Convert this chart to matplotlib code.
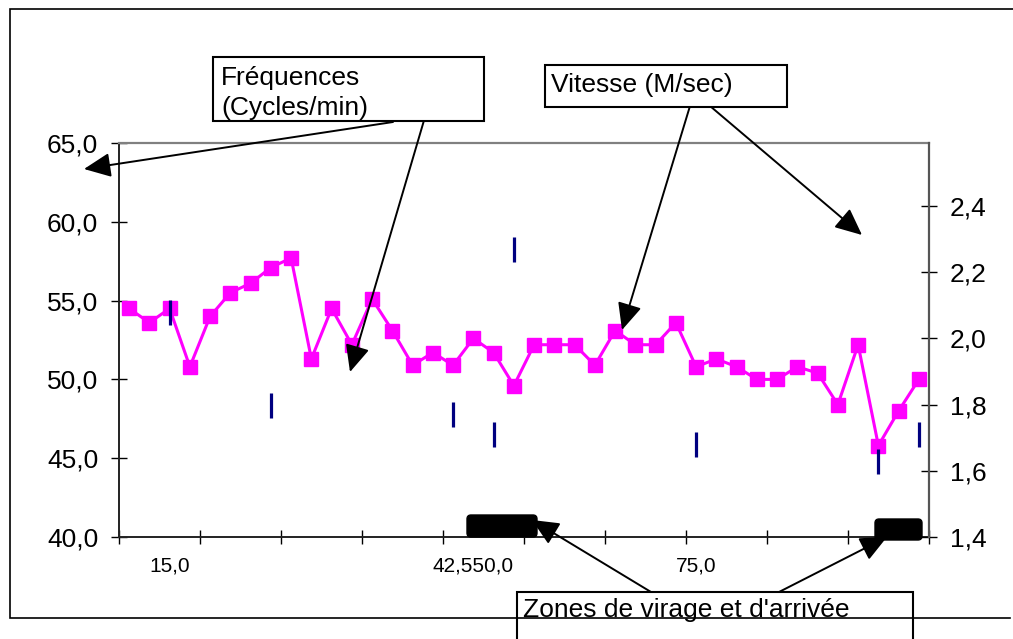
import matplotlib
matplotlib.use('Agg')
import matplotlib.pyplot as plt
import numpy as np
from matplotlib.patches import FancyBboxPatch, Rectangle, FancyArrowPatch

plt.rcParams['font.family'] = ['Liberation Sans', 'DejaVu Sans']

nan = np.nan
# ---- data ----
categories = list(range(40))
x_label_positions = [2, 17, 28]
x_labels = ['15,0', '42,550,0', '75,0']

frequences = [54.5, 53.6, 54.5, 50.8, 54.0, 55.5, 56.1, 57.1, 57.7, 51.3,
              54.5, 52.2, 55.1, 53.1, 50.9, 51.7, 50.9, 52.6, 51.7, 49.6,
              52.2, 52.2, 52.2, 50.9, 53.1, 52.2, 52.2, 53.6, 50.8, 51.3,
              50.8, 50.0, 50.0, 50.8, 50.4, 48.4, 52.2, 45.8, 48.0, 50.0]

vitesse = [nan, nan, 2.08, nan, nan, nan, nan, 1.80, nan, nan,
           nan, nan, nan, nan, nan, nan, 1.77, nan, 1.71, 2.27,
           nan, nan, nan, nan, nan, nan, nan, nan, 1.68, nan,
           nan, nan, nan, nan, nan, nan, nan, 1.63, nan, 1.71]

left_ticks = [40, 45, 50, 55, 60, 65]
right_ticks = [1.4, 1.6, 1.8, 2.0, 2.2, 2.4]

W, H = 1013, 639
fig = plt.figure(figsize=(W / 100, H / 100), dpi=100)
fig.patch.set_facecolor('white')

ax = fig.add_axes([119 / W, (H - 537) / H, 810 / W, 394 / H])
ax.set_xlim(-0.5, len(categories) - 0.5)
ax.set_ylim(40, 65)
ax.plot(categories, frequences, color='#FF00FF', lw=2.2, marker='s',
        markersize=10, markerfacecolor='#FF00FF', markeredgecolor='#FF00FF',
        zorder=3)

ax.set_yticks(left_ticks)
ax.set_yticklabels([f'{v:.1f}'.replace('.', ',') for v in left_ticks])
ax.tick_params(axis='y', direction='inout', length=12, width=1, pad=9,
               labelsize=19, colors='black')
ax.set_xticks(x_label_positions)
ax.set_xticklabels(x_labels)
ax.tick_params(axis='x', which='major', length=0, pad=14, labelsize=15)
ax.set_xticks(np.arange(-0.5, len(categories), 4), minor=True)
ax.tick_params(axis='x', which='minor', direction='inout', length=9.5, width=1)

ax.spines['top'].set_color('#808080')
ax.spines['top'].set_linewidth(1.6)
ax.spines['right'].set_visible(False)
for s in ('left', 'bottom'):
    ax.spines[s].set_color('#222222')
    ax.spines[s].set_linewidth(1.4)

ax2 = ax.twinx()
ax2.set_ylim(1.4, 2.59)
ax2.plot(categories, vitesse, linestyle='none', marker='|', markersize=18,
         markeredgewidth=2.3, color='#000080', zorder=4)
ax2.set_yticks(right_ticks)
ax2.set_yticklabels([f'{v:.1f}'.replace('.', ',') for v in right_ticks])
ax2.tick_params(axis='y', direction='inout', length=12, width=1, pad=9,
                labelsize=19)
for s in ('left', 'top', 'bottom'):
    ax2.spines[s].set_visible(False)
ax2.spines['right'].set_color('#555555')
ax2.spines['right'].set_linewidth(1.6)

# ---- overlay in pixel coordinates ----
ov = fig.add_axes([0, 0, 1, 1], zorder=10)
ov.set_xlim(0, W)
ov.set_ylim(H, 0)
ov.axis('off')
ov.patch.set_alpha(0)

# outer frame (right side runs off the picture)
ov.plot([1013, 10, 10, 1010], [8.5, 8.5, 618, 618], color='black', lw=1.2,
        solid_joinstyle='miter')

# black zone markers
ov.add_patch(FancyBboxPatch((467, 515), 70, 22,
                            boxstyle='round,pad=0,rounding_size=4',
                            fc='black', ec='black'))
ov.add_patch(FancyBboxPatch((875, 519), 47, 21,
                            boxstyle='round,pad=0,rounding_size=4',
                            fc='black', ec='black'))

arrows = [((393, 122), (84, 169)),
          ((425, 117), (350, 372)),
          ((690, 106), (622, 330)),
          ((710, 106), (862, 235)),
          ((651, 592), (532, 520)),
          ((779, 592), (887, 537))]
for a, b in arrows:
    ov.add_patch(FancyArrowPatch(a, b,
                                 arrowstyle='-|>,head_length=0.55,head_width=0.25',
                                 mutation_scale=30, lw=1.4, color='black',
                                 shrinkA=0, shrinkB=0))

# text boxes
ov.add_patch(Rectangle((213, 57), 271, 64, fc='white', ec='black', lw=1.5))
ov.text(221, 85, 'Fréquences', fontsize=19, va='baseline', ha='left')
ov.text(221, 115, '(Cycles/min)', fontsize=19, va='baseline', ha='left')

ov.add_patch(Rectangle((545, 65), 242, 42, fc='white', ec='black', lw=1.5))
ov.text(551, 92, 'Vitesse (M/sec)', fontsize=19, va='baseline', ha='left')

ov.add_patch(Rectangle((517, 592), 396, 70, fc='white', ec='black', lw=1.5))
ov.text(523, 617, "Zones de virage et d'arrivée", fontsize=19,
        va='baseline', ha='left')

fig.savefig('out.png', dpi=100, facecolor='white')
